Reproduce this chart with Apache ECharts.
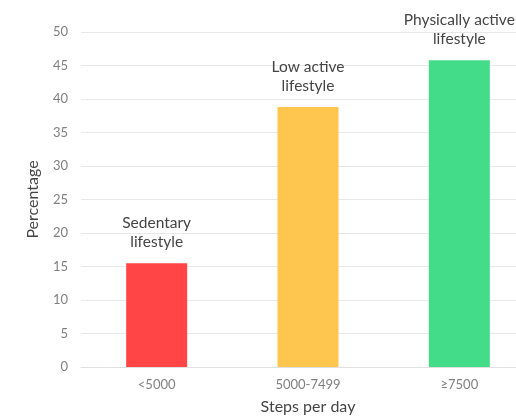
<!DOCTYPE html>
<html>
<head>
<meta charset="utf-8">
<script src="https://cdn.jsdelivr.net/npm/echarts@6/dist/echarts.min.js"></script>
<style>
  html, body { margin: 0; padding: 0; background: #fff; }
  #chart { width: 516px; height: 416px; }
</style>
</head>
<body>
<div id="chart"></div>
<script>
// Share of people by daily step count
const categories = ['<5000', '5000-7499', '≥7500'];
const values = [15.5, 38.8, 45.8];
const barLabels = ['Sedentary\nlifestyle', 'Low active\nlifestyle', 'Physically active\nlifestyle'];
const barColors = ['#FF4545', '#FEC64F', '#43DD89'];
const yTicks = [0, 5, 10, 15, 20, 25, 30, 35, 40, 45, 50];

const FONT = 'Lato, "Open Sans", sans-serif';

const chart = echarts.init(document.getElementById('chart'), null, { renderer: 'canvas' });

chart.setOption({
  animation: false,
  backgroundColor: '#ffffff',
  grid: {
    left: 81, right: -19, top: 32, bottom: 49,
    containLabel: false,
    outerBoundsMode: 'none'
  },
  xAxis: {
    type: 'category',
    data: categories,
    name: 'Steps per day',
    nameLocation: 'middle',
    nameGap: 32,
    nameTextStyle: { color: '#444', fontSize: 16, fontFamily: FONT },
    axisLine: { show: true, lineStyle: { color: '#e0e0e0', width: 1 } },
    axisTick: { show: false },
    axisLabel: { color: '#7f7f7f', fontSize: 13, fontFamily: FONT, margin: 11 }
  },
  yAxis: {
    type: 'value',
    min: yTicks[0],
    max: yTicks[yTicks.length - 1],
    interval: 5,
    name: 'Percentage',
    nameLocation: 'middle',
    nameGap: 40,
    nameRotate: 90,
    nameTextStyle: { color: '#444', fontSize: 16, fontFamily: FONT },
    axisLine: { show: false },
    axisTick: { show: false },
    axisLabel: { color: '#7f7f7f', fontSize: 13, fontFamily: FONT, margin: 13 },
    splitLine: { lineStyle: { color: '#e8e8e8', width: 1 } }
  },
  series: [{
    type: 'bar',
    barWidth: 61,
    data: values.map((v, i) => ({
      value: v,
      itemStyle: { color: barColors[i] },
      label: { formatter: barLabels[i] }
    })),
    label: {
      show: true,
      position: 'top',
      distance: 12,
      color: '#444',
      fontSize: 15.5,
      lineHeight: 19,
      fontFamily: FONT,
      align: 'center'
    }
  }]
});
</script>
</body>
</html>
